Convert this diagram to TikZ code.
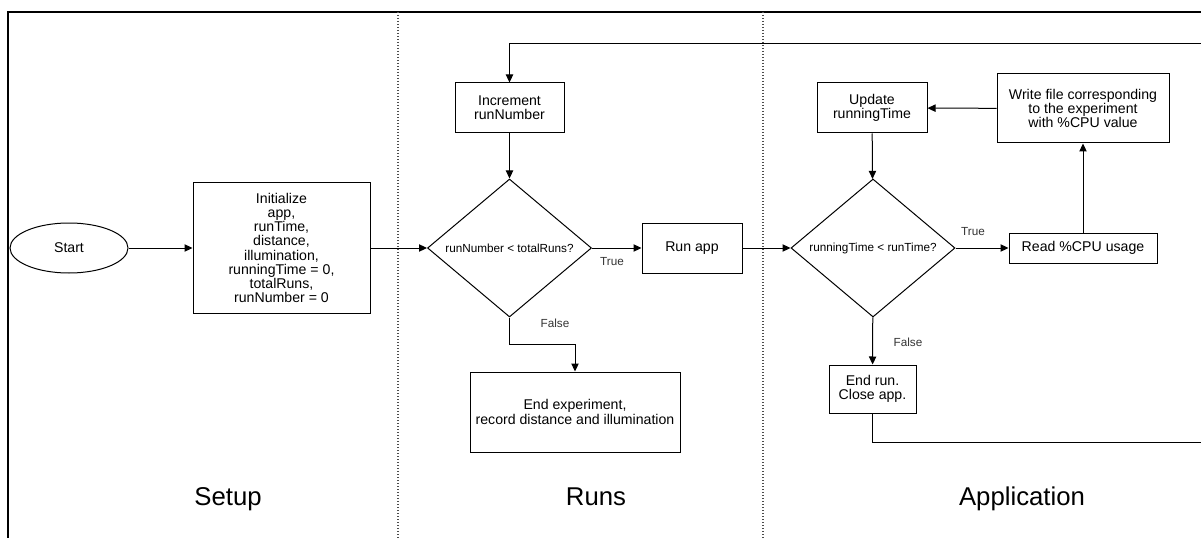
\documentclass[tikz,border=0pt]{standalone}
\usepackage{fontspec}
\setmainfont{Liberation Sans}
\usetikzlibrary{arrows.meta,shapes.geometric}

\begin{document}
\begin{tikzpicture}[
    x=0.75pt, y=-0.75pt,
    box/.style={draw, line width=0.75pt, align=center, inner sep=0pt,
                font=\fontsize{10.6}{10.6}\selectfont},
    cond/.style={draw, diamond, aspect=1.2, line width=0.75pt, inner sep=0pt,
                 minimum width=123pt, minimum height=103.5pt,
                 font=\fontsize{8.8}{10}\selectfont},
    lbl/.style={font=\fontsize{8.8}{10}\selectfont, text=black!80},
    lane/.style={font=\fontsize{19.3}{22}\selectfont, anchor=base},
    sep/.style={line width=0.8pt, black!70, dash pattern=on 0.75pt off 1.5pt},
    arr/.style={-{Triangle[length=6pt, width=5.5pt]}, line width=0.75pt}
  ]
    \useasboundingbox (0,0) rectangle (1201,538);
    \draw[line width=1.3pt] (8,538) -- (8,12) -- (1201,12);
    \draw[sep] (398,12) -- (398,538);
    \draw[sep] (763,12) -- (763,538);

    \node[box, ellipse, minimum width=88.5pt, minimum height=37.5pt] (start) at (69,248) {Start};
    \node[box, minimum width=132.75pt, minimum height=97.5pt] (init) at (281.5,248)
      {Initialize\\app,\\runTime,\\distance,\\illumination,\\runningTime = 0,\\totalRuns,\\runNumber = 0};
    \node[box, minimum width=81.75pt, minimum height=37.5pt] (inc) at (509.5,108) {Increment\\runNumber};
    \node[cond] (check) at (509.5,248) {runNumber < totalRuns?};
    \node[box, minimum width=75pt, minimum height=37.5pt] (run) at (692,248) {Run app};
    \node[box, minimum width=157.5pt, minimum height=60pt] (finish) at (575,412)
      {End experiment,\\record distance and illumination};
    \node[cond] (timer) at (873,248) {runningTime < runTime?};
    \node[box, minimum width=82.5pt, minimum height=37.5pt] (update) at (872,108) {Update\\runningTime};
    \node[box, minimum width=129pt, minimum height=51.75pt] (write) at (1083,108.5)
      {Write file corresponding\\to the experiment\\with \%CPU value};
    \node[box, minimum width=111pt, minimum height=22.5pt] (read) at (1083,248) {Read \%CPU usage};
    \node[box, minimum width=65.25pt, minimum height=36pt] (endrun) at (872.5,389) {End run.\\Close app.};

    \node[lbl] (yes1) at (612,262) {True};
    \node[lbl] (no1) at (555,323) {False};
    \node[lbl] (yes2) at (973,232) {True};
    \node[lbl] (no2) at (908,342) {False};

    \node[lane] (setup) at (228,505) {Setup};
    \node[lane] (runs) at (596,505) {Runs};
    \node[lane] (app) at (1022,505) {Application};

    \coordinate (topR) at (1201,44);
    \coordinate (botR) at (1201,442);

    \foreach \a/\b in {start/init, init/check, inc/check, check/run, run/timer,
                       timer/read, read/write, write/update, update/timer, timer/endrun}
      \draw[arr] (\a) -- (\b);
    \draw[arr] (check.south) -- ++(0,27) -| (finish);
    \draw[arr] (topR) -| (inc);
    \draw[line width=0.75pt] (endrun) |- (botR);
  \end{tikzpicture}
\end{document}
